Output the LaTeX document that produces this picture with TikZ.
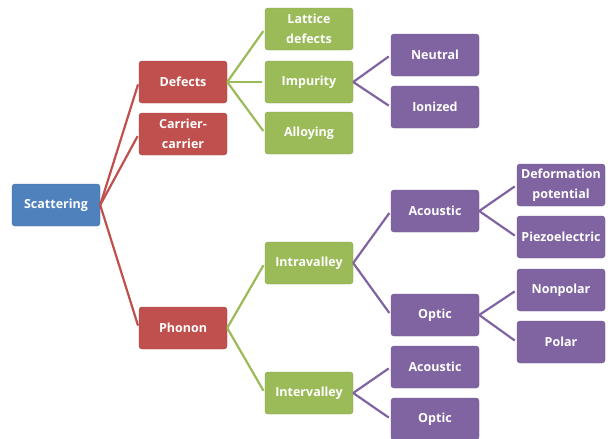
\documentclass[tikz,border=0pt]{standalone}
\usepackage{fontspec}
\setmainfont{Open Sans}
\definecolor{cblue}{HTML}{4F81BD}
\definecolor{cred}{HTML}{C0504D}
\definecolor{cgreen}{HTML}{9BBB59}
\definecolor{cpurple}{HTML}{8064A2}
\tikzset{
  box/.style={rounded corners=3pt, minimum width=88pt, minimum height=42pt, inner sep=1pt,
    text=white, font=\fontsize{12.5}{20.5}\selectfont\bfseries, align=center, draw=#1!85!black, line width=0.4pt, fill=#1},
  link/.style={draw=#1, line width=2.2pt, shorten >=2.5pt}
}
\begin{document}
\begin{tikzpicture}[x=1pt,y=-1pt]
\useasboundingbox[fill=white] (0,0) rectangle (608,439);
\node[box=cblue] (scat) at (56,205) {Scattering};
\node[box=cred] (def) at (183,82) {Defects};
\node[box=cred] (car) at (183,134) {Carrier-\\carrier};
\node[box=cred] (pho) at (183,328) {Phonon};
\node[box=cgreen] (lat) at (309,29) {Lattice\\defects};
\node[box=cgreen] (imp) at (309,82) {Impurity};
\node[box=cgreen] (all) at (309,133) {Alloying};
\node[box=cgreen] (intra) at (309,263) {Intravalley};
\node[box=cgreen] (inter) at (309,393) {Intervalley};
\node[box=cpurple] (neu) at (435,55) {Neutral};
\node[box=cpurple] (ion) at (435,107) {Ionized};
\node[box=cpurple] (aco1) at (435,211) {Acoustic};
\node[box=cpurple] (opt1) at (435,315) {Optic};
\node[box=cpurple] (aco2) at (435,367) {Acoustic};
\node[box=cpurple] (opt2) at (435,419) {Optic};
\node[box=cpurple] (dp) at (561,185) {Deformation\\potential};
\node[box=cpurple] (pz) at (561,237) {Piezoelectric};
\node[box=cpurple] (np) at (561,290) {Nonpolar};
\node[box=cpurple] (pol) at (561,342) {Polar};
\foreach \c in {def,car,pho} \draw[link=cred] (scat.east) -- (\c.west);
\foreach \c in {lat,imp,all} \draw[link=cgreen] (def.east) -- (\c.west);
\foreach \c in {intra,inter} \draw[link=cgreen] (pho.east) -- (\c.west);
\foreach \c in {neu,ion} \draw[link=cpurple] (imp.east) -- (\c.west);
\foreach \c in {aco1,opt1} \draw[link=cpurple] (intra.east) -- (\c.west);
\foreach \c in {aco2,opt2} \draw[link=cpurple] (inter.east) -- (\c.west);
\foreach \c in {dp,pz} \draw[link=cpurple] (aco1.east) -- (\c.west);
\foreach \c in {np,pol} \draw[link=cpurple] (opt1.east) -- (\c.west);
\end{tikzpicture}
\end{document}
